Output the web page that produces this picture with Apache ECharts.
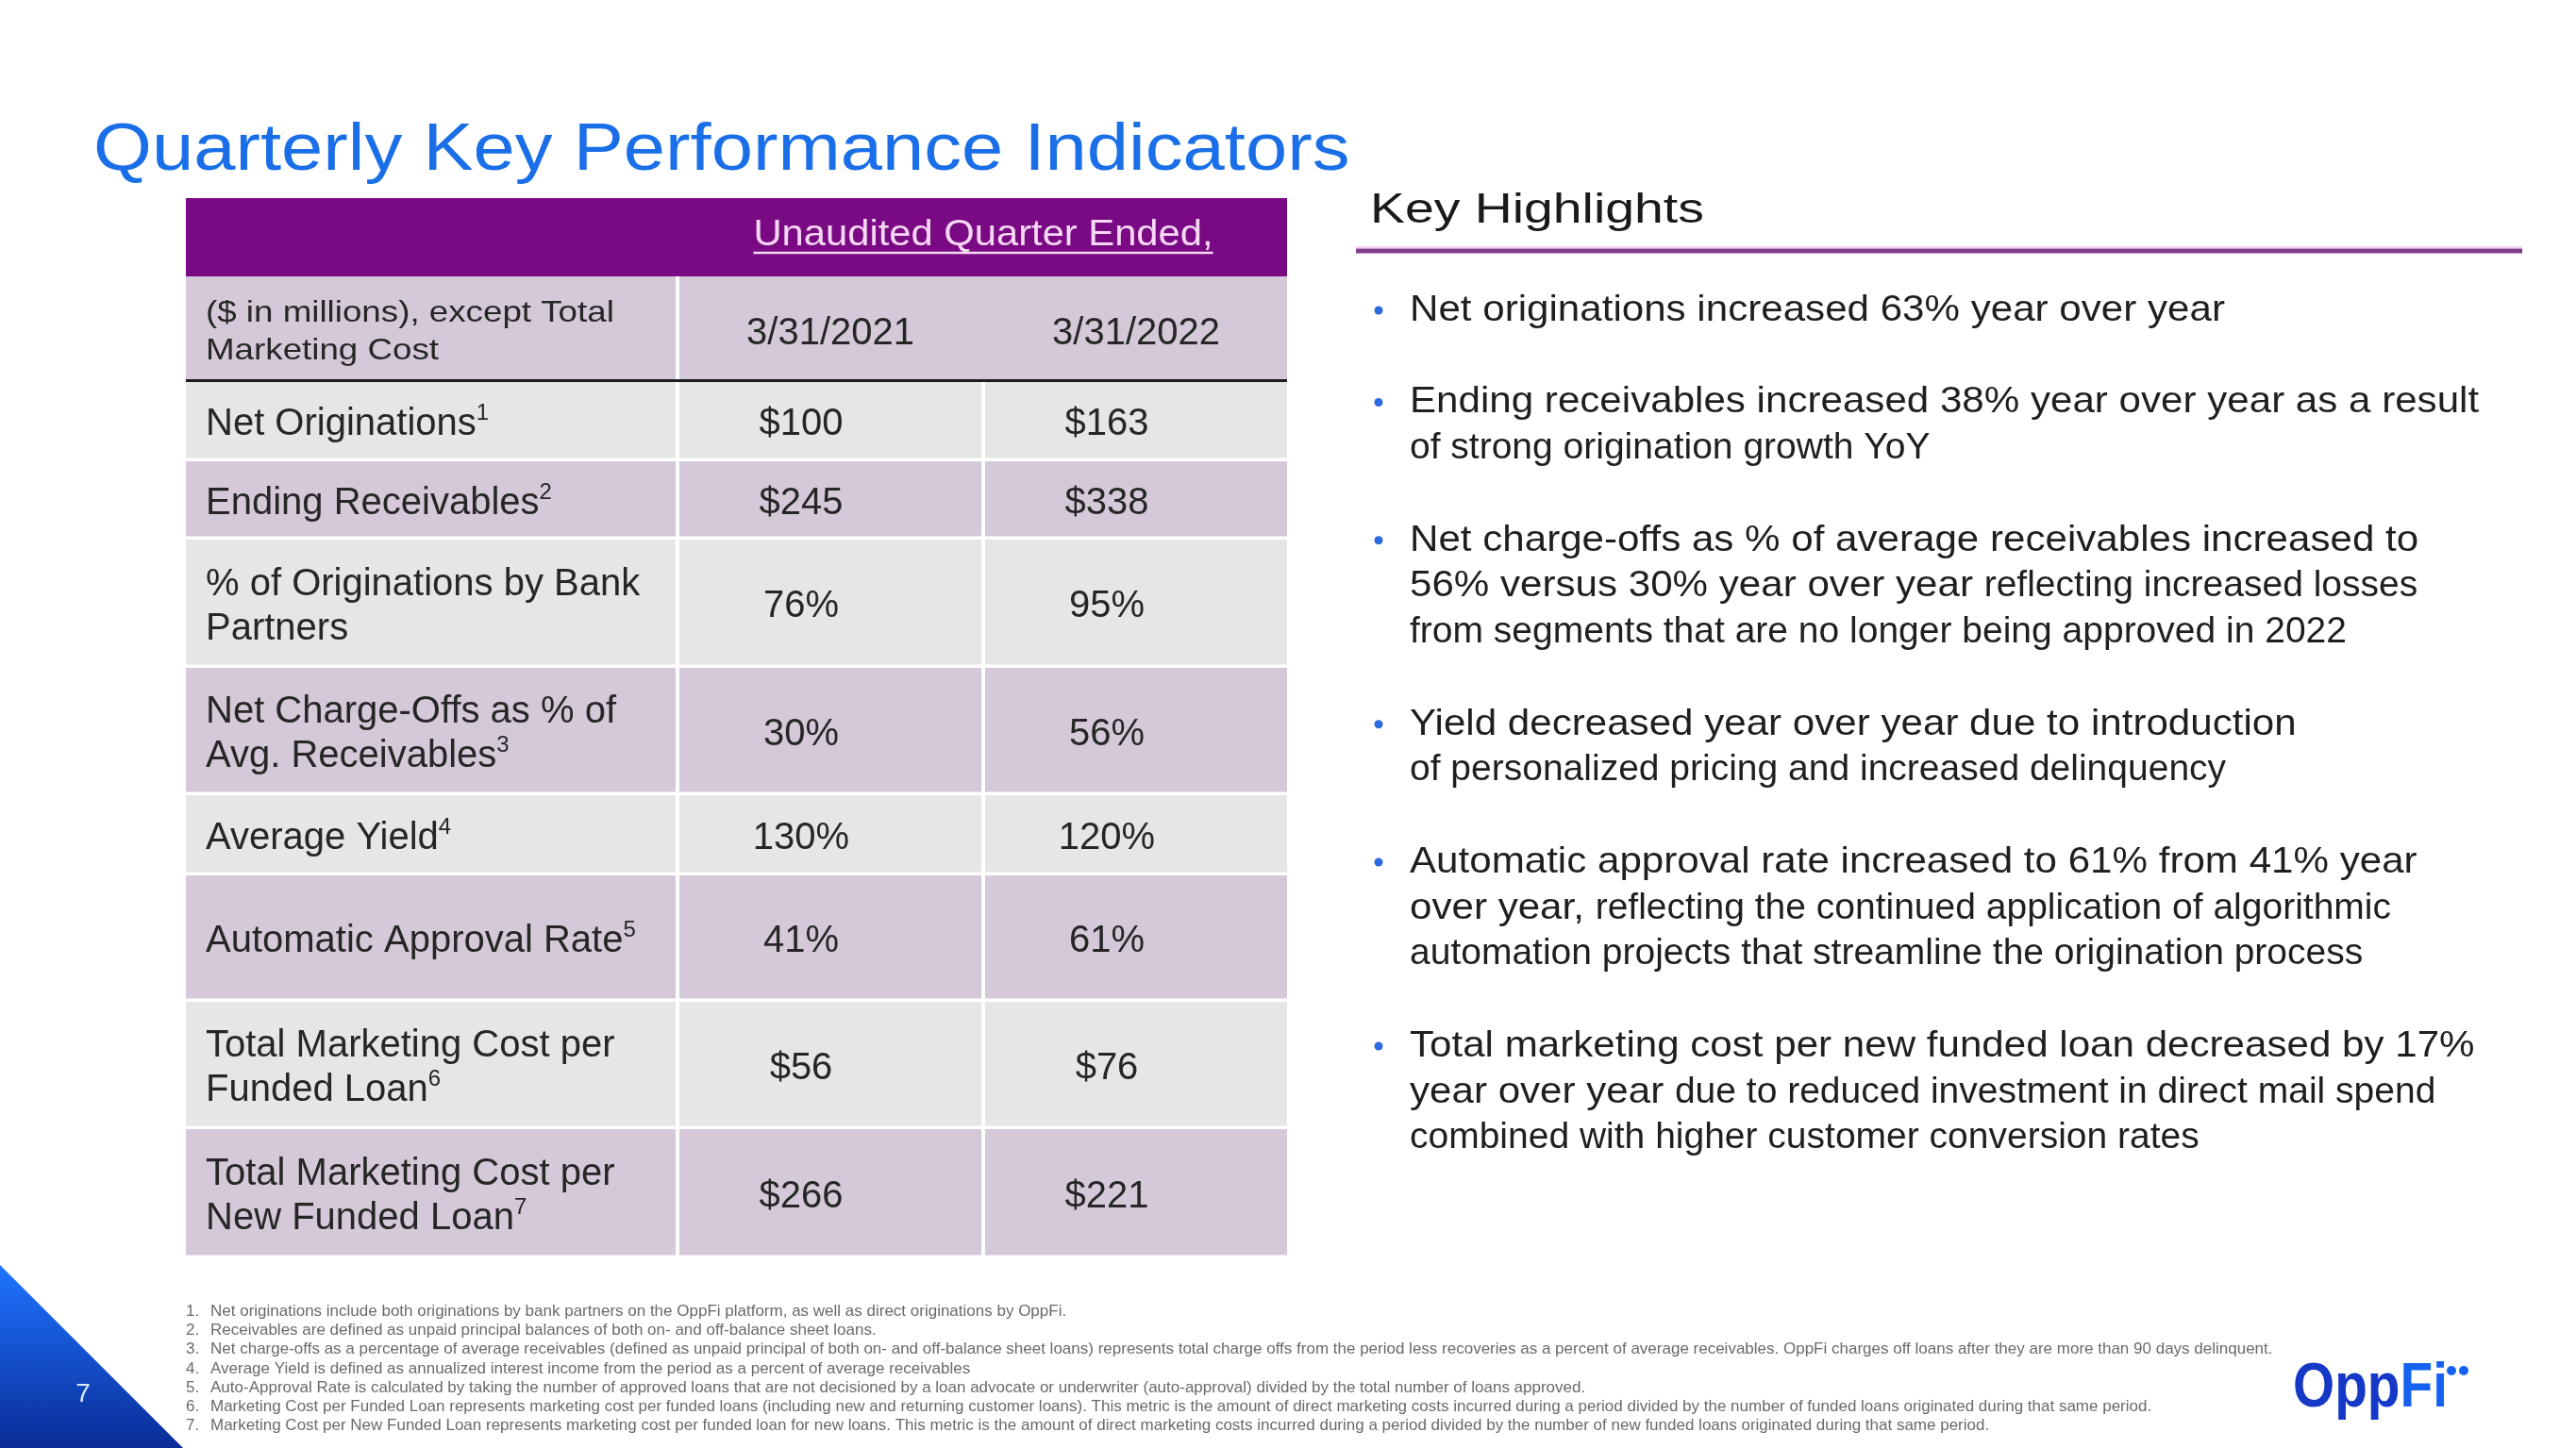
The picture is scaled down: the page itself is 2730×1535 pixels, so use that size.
<!DOCTYPE html>
<html>
<head>
<meta charset="utf-8">
<script src="https://cdn.jsdelivr.net/npm/echarts@6/dist/echarts.min.js"></script>
<style>
html,body{margin:0;padding:0;background:#ffffff;}
#c{width:2730px;height:1535px;}
</style>
</head>
<body>
<div id="c"></div>
<script>
// ---------------- DATA ----------------
const pageTitle = 'Quarterly Key Performance Indicators';
const tableTitle = 'Unaudited Quarter Ended,';
const unitNote = ['($ in millions), except Total', 'Marketing Cost'];
const periods = ['3/31/2021', '3/31/2022'];
const metrics = [
  ['Net Originations'],
  ['Ending Receivables'],
  ['% of Originations by Bank', 'Partners'],
  ['Net Charge-Offs as % of', 'Avg. Receivables'],
  ['Average Yield'],
  ['Automatic Approval Rate'],
  ['Total Marketing Cost per', 'Funded Loan'],
  ['Total Marketing Cost per', 'New Funded Loan']
];
const noteRefs = ['1', '2', '', '3', '4', '5', '6', '7'];
const q2021 = ['$100', '$245', '76%', '30%', '130%', '41%', '$56', '$266'];
const q2022 = ['$163', '$338', '95%', '56%', '120%', '61%', '$76', '$221'];

const highlightsTitle = 'Key Highlights';
// each line: [wide-set part, normal part]
const highlights = [
  [['Net originations increased 63% year over year', '']],
  [['Ending receivables increased 38% year over year as a result', ''],
   ['', 'of strong origination growth YoY']],
  [['Net charge-offs as % of average receivables increased to', ''],
   ['56% versus 30% year over year ', 'reflecting increased losses'],
   ['', 'from segments that are no longer being approved in 2022']],
  [['Yield decreased year over year due to introduction', ''],
   ['', 'of personalized pricing and increased delinquency']],
  [['Automatic approval rate increased to 61% from 41% year', ''],
   ['over year, ', 'reflecting the continued application of algorithmic'],
   ['', 'automation projects that streamline the origination process']],
  [['Total marketing cost per new funded loan decreased by 17%', ''],
   ['year over year ', 'due to reduced investment in direct mail spend'],
   ['', 'combined with higher customer conversion rates']]
];

const footnotes = [
  'Net originations include both originations by bank partners on the OppFi platform, as well as direct originations by OppFi.',
  'Receivables are defined as unpaid principal balances of both on- and off-balance sheet loans.',
  'Net charge-offs as a percentage of average receivables (defined as unpaid principal of both on- and off-balance sheet loans) represents total charge offs from the period less recoveries as a percent of average receivables. OppFi charges off loans after they are more than 90 days delinquent.',
  'Average Yield is defined as annualized interest income from the period as a percent of average receivables',
  'Auto-Approval Rate is calculated by taking the number of approved loans that are not decisioned by a loan advocate or underwriter (auto-approval) divided by the total number of loans approved.',
  'Marketing Cost per Funded Loan represents marketing cost per funded loans (including new and returning customer loans). This metric is the amount of direct marketing costs incurred during a period divided by the number of funded loans originated during that same period.',
  'Marketing Cost per New Funded Loan represents marketing cost per funded loan for new loans. This metric is the amount of direct marketing costs incurred during a period divided by the number of new funded loans originated during that same period.'
];
const pageNumber = '7';
const brandA = 'Opp';
const brandB = 'Fi';

// ---------------- LAYOUT / STYLE ----------------
const FONT = '"Liberation Sans", Arial, Helvetica, sans-serif';
const INK = '#262626';
const PURPLE = '#7A0A84';
const LAV = '#D5C9D9';
const GRAY = '#E6E6E6';
const RULE = '#1C1C1C';
const HEAD_TXT = '#F6D8F4';

const X_MAX = 1167;                       // table width in axis units
const COLS = [[0, 519], [523, 843], [847, 1167]];
const HEAD_END = 83, SUB_END = 192, RULE_END = 195;
const ROW_PITCH = [84, 83, 136, 135, 85, 134, 135, 137];
const ROW_GAP = 3.5;
const Y_MAX = RULE_END + ROW_PITCH.reduce((a, b) => a + b, 0);
const VALUE_SHIFT = -31;
const TXT_DY = 5;                         // optical baseline correction

const mctx = document.createElement('canvas').getContext('2d');
function textWidth(t, size, weight) {
  mctx.font = (weight || 'normal') + ' ' + size + 'px ' + FONT;
  return mctx.measureText(t).width;
}

// ---------------- TABLE CELLS ----------------
const cells = [];
cells.push({kind: 'head', box: [0, 0, X_MAX, HEAD_END], fill: PURPLE, text: tableTitle,
            tx: (COLS[1][0] + COLS[2][1]) / 2});
cells.push({kind: 'unit', box: [0, HEAD_END, COLS[0][1], SUB_END], fill: LAV, text: unitNote.join('\n')});
periods.forEach((p, i) => {
  const c = COLS[i + 1];
  const x0 = i === 0 ? c[0] : (COLS[1][1] + COLS[2][0]) / 2;
  const x1 = i === 0 ? (COLS[1][1] + COLS[2][0]) / 2 : c[1];
  cells.push({kind: 'date', box: [x0, HEAD_END, x1, SUB_END], fill: LAV, text: p, tx: (c[0] + c[1]) / 2});
});
cells.push({kind: 'rule', box: [0, SUB_END, X_MAX, RULE_END], fill: RULE});
let yTop = RULE_END;
metrics.forEach((m, r) => {
  const y0 = yTop, y1 = yTop + ROW_PITCH[r] - ROW_GAP;
  const fill = r % 2 === 0 ? GRAY : LAV;
  cells.push({kind: 'label', box: [COLS[0][0], y0, COLS[0][1], y1], fill, lines: m, ref: noteRefs[r]});
  cells.push({kind: 'value', box: [COLS[1][0], y0, COLS[1][1], y1], fill, text: q2021[r]});
  cells.push({kind: 'value', box: [COLS[2][0], y0, COLS[2][1], y1], fill, text: q2022[r]});
  yTop += ROW_PITCH[r];
});

const labelRich = {
  m: {fontSize: 40, fontFamily: FONT, fill: INK, lineHeight: 47},
  s: {fontSize: 24, fontFamily: FONT, fill: INK, lineHeight: 34, verticalAlign: 'top'}
};
function labelText(lines, ref) {
  return lines.map((l, i) => '{m|' + l + '}' + (i === lines.length - 1 && ref ? '{s|' + ref + '}' : '')).join('\n');
}

function renderCell(params, api) {
  const c = cells[params.dataIndex];
  const p0 = api.coord([api.value(0), api.value(1)]);
  const p1 = api.coord([api.value(2), api.value(3)]);
  const rect = {x: p0[0], y: p0[1], width: p1[0] - p0[0], height: p1[1] - p0[1]};
  const cy = rect.y + rect.height / 2 + TXT_DY;
  const children = [{type: 'rect', shape: rect, style: {fill: c.fill}}];
  if (c.kind === 'head') {
    const cx = api.coord([c.tx, 0])[0];
    const sx = 1.07, fs = 39;
    const w = textWidth(c.text, fs) * sx;
    children.push({type: 'text', x: cx, y: rect.y + 39, scaleX: sx,
      style: {text: c.text, fontSize: fs, fontFamily: FONT, fill: HEAD_TXT, align: 'center', verticalAlign: 'middle'}});
    children.push({type: 'line', shape: {x1: cx - w / 2, y1: rect.y + 58, x2: cx + w / 2, y2: rect.y + 58},
      style: {stroke: HEAD_TXT, lineWidth: 2.5}});
  } else if (c.kind === 'unit') {
    children.push({type: 'text', x: rect.x + 21, y: cy, scaleX: 1.148,
      style: {text: c.text, fontSize: 32, lineHeight: 40, fontFamily: FONT, fill: INK, align: 'left', verticalAlign: 'middle'}});
  } else if (c.kind === 'date') {
    const cx = api.coord([c.tx, 0])[0];
    children.push({type: 'text', x: cx, y: cy + 1,
      style: {text: c.text, fontSize: 40, fontFamily: FONT, fill: INK, align: 'center', verticalAlign: 'middle'}});
  } else if (c.kind === 'label') {
    children.push({type: 'text', x: rect.x + 21, y: cy,
      style: {text: labelText(c.lines, c.ref), rich: labelRich, fontSize: 40, fontFamily: FONT, fill: INK,
              align: 'left', verticalAlign: 'middle'}});
  } else if (c.kind === 'value') {
    children.push({type: 'text', x: rect.x + rect.width / 2 + VALUE_SHIFT, y: cy,
      style: {text: c.text, fontSize: 40, fontFamily: FONT, fill: INK, align: 'center', verticalAlign: 'middle'}});
  }
  return {type: 'group', children};
}

// ---------------- SLIDE GRAPHICS ----------------
const elements = [];
elements.push({type: 'text', x: 99, y: 161, scaleX: 1.137,
  style: {text: pageTitle, fontSize: 70, fontFamily: FONT, fill: '#1A6FE8', align: 'left', verticalAlign: 'middle'}});
elements.push({type: 'text', x: 1452, y: 224, scaleX: 1.23,
  style: {text: highlightsTitle, fontSize: 45, fontFamily: FONT, fill: '#1A1A1A', align: 'left', verticalAlign: 'middle'}});
elements.push({type: 'rect', shape: {x: 1437, y: 261, width: 1236, height: 2}, style: {fill: '#F3D3F1'}});
elements.push({type: 'rect', shape: {x: 1437, y: 263.5, width: 1236, height: 5}, style: {fill: '#823C8C'}});

const B = {x: 1494, dotX: 1461, firstY: 329, pitch: 48.75, size: 39, wide: 1.08};
let k = 0;
highlights.forEach(lines => {
  elements.push({type: 'circle', shape: {cx: B.dotX, cy: B.firstY + k * B.pitch, r: 4.5},
    style: {fill: '#2A6BE0'}});
  lines.forEach(seg => {
    const y = B.firstY + k * B.pitch;
    let x = B.x;
    if (seg[0]) {
      elements.push({type: 'text', x: x, y: y, scaleX: B.wide,
        style: {text: seg[0], fontSize: B.size, fontFamily: FONT, fill: '#1F1F1F', align: 'left', verticalAlign: 'middle'}});
      x += textWidth(seg[0], B.size) * B.wide;
    }
    if (seg[1]) {
      elements.push({type: 'text', x: x, y: y,
        style: {text: seg[1], fontSize: B.size, fontFamily: FONT, fill: '#1F1F1F', align: 'left', verticalAlign: 'middle'}});
    }
    k++;
  });
  k++;
});

// footnotes
const FN = {numX: 197, x: 223, y: 1390, pitch: 20.3, size: 17};
footnotes.forEach((t, i) => {
  elements.push({type: 'text', x: FN.numX, y: FN.y + i * FN.pitch,
    style: {text: (i + 1) + '.', fontSize: FN.size, fontFamily: FONT, fill: '#6A6A6A', align: 'left', verticalAlign: 'middle'}});
  elements.push({type: 'text', x: FN.x, y: FN.y + i * FN.pitch,
    style: {text: t, fontSize: FN.size, fontFamily: FONT, fill: '#6A6A6A', align: 'left', verticalAlign: 'middle'}});
});

// corner triangle + page number
elements.push({type: 'polygon', shape: {points: [[0, 1341], [194, 1535], [0, 1535]]},
  style: {fill: new echarts.graphic.LinearGradient(0, 0, 0, 1, [
    {offset: 0, color: '#1E74FF'}, {offset: 1, color: '#0A2C98'}])}});
elements.push({type: 'text', x: 88, y: 1478,
  style: {text: pageNumber, fontSize: 28, fontFamily: FONT, fill: '#D9E8FF', align: 'center', verticalAlign: 'middle'}});

// logo
elements.push({type: 'text', x: 2430, y: 1473, scaleX: 0.86,
  style: {text: '{a|' + brandA + '}{b|' + brandB + '}', fontSize: 66, fontWeight: 'bold', fontFamily: FONT,
    align: 'left', verticalAlign: 'middle',
    rich: {a: {fontSize: 66, fontWeight: 'bold', fontFamily: FONT, fill: '#1538C6'},
           b: {fontSize: 66, fontWeight: 'bold', fontFamily: FONT, fill: '#1662F0'}}}});
elements.push({type: 'circle', shape: {cx: 2598, cy: 1453, r: 5}, style: {fill: '#1662F0'}});
elements.push({type: 'circle', shape: {cx: 2611, cy: 1453, r: 5}, style: {fill: '#1662F0'}});

// ---------------- CHART ----------------
const chart = echarts.init(document.getElementById('c'), null, {renderer: 'canvas', width: 2730, height: 1535});
chart.setOption({
  backgroundColor: '#ffffff',
  animation: false,
  grid: {left: 197, top: 210, width: X_MAX, height: Y_MAX},
  xAxis: {type: 'value', min: 0, max: X_MAX, show: false},
  yAxis: {type: 'value', min: 0, max: Y_MAX, inverse: true, show: false},
  series: [{
    type: 'custom',
    name: 'KPI table',
    silent: true,
    clip: false,
    encode: {x: [0, 2], y: [1, 3]},
    data: cells.map(c => c.box),
    renderItem: renderCell
  }],
  graphic: {elements: elements}
});
</script>
</body>
</html>
